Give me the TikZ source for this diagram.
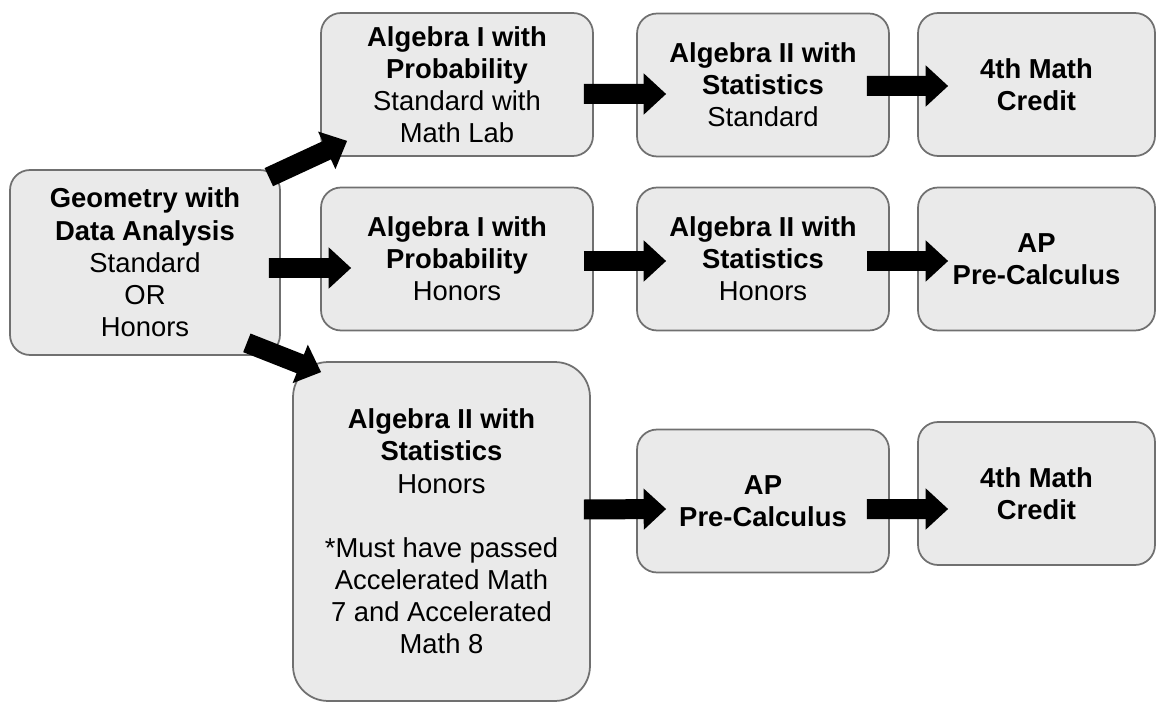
\documentclass[tikz,border=0pt]{standalone}
\usepackage{fontspec}
\setmainfont{Liberation Sans}
\usetikzlibrary{arrows.meta}
\definecolor{boxgray}{RGB}{234,234,234}
\definecolor{edgegray}{RGB}{112,112,112}

\begin{document}
\begin{tikzpicture}[x=0.02cm, y=-0.02cm, font=\fontsize{15.6}{18.3}\selectfont,
    course/.style={draw=edgegray, line width=1pt, fill=boxgray, rounded corners=0.4cm,
      align=center, inner sep=0pt, minimum height=2.86cm},
    fat/.style={line width=0.4cm, -{Triangle[length=0.45cm, width=0.8cm]}}]
  \useasboundingbox (0,0) rectangle (1159,702);

  % start
  \node[course, minimum width=5.4cm, minimum height=3.7cm] (geo) at (145,262.5)
    {\textbf{Geometry with}\\ \textbf{Data Analysis}\\ Standard\\ OR\\ Honors};

  % top row
  \node[course, minimum width=5.44cm] (a1s) at (457,84.5)
    {\textbf{Algebra I with}\\ \textbf{Probability}\\ Standard with\\ Math Lab};
  \node[course, minimum width=5.04cm] (a2s) at (763,85)
    {\textbf{Algebra II with}\\ \textbf{Statistics}\\ Standard};
  \node[course, minimum width=4.74cm] (c4a) at (1036.5,84.5)
    {\textbf{4th Math}\\ \textbf{Credit}};

  % middle row
  \node[course, minimum width=5.44cm] (a1h) at (457,259)
    {\textbf{Algebra I with}\\ \textbf{Probability}\\ Honors};
  \node[course, minimum width=5.04cm] (a2h) at (763,259)
    {\textbf{Algebra II with}\\ \textbf{Statistics}\\ Honors};
  \node[course, minimum width=4.74cm] (apa) at (1036.5,259)
    {\textbf{AP}\\ \textbf{Pre-Calculus}};

  % bottom row
  \node[course, minimum width=5.94cm, minimum height=6.78cm, rounded corners=0.7cm] (big) at (441.5,531.5)
    {\textbf{Algebra II with}\\ \textbf{Statistics}\\ Honors\\[18.3pt]
     *Must have passed\\ Accelerated Math\\ 7 and Accelerated\\ Math 8};
  \node[course, minimum width=5.04cm] (apb) at (763,501)
    {\textbf{AP}\\ \textbf{Pre-Calculus}};
  \node[course, minimum width=4.74cm] (c4b) at (1036.5,493.5)
    {\textbf{4th Math}\\ \textbf{Credit}};

  % arrows
  \draw[fat] ([shift={(-12,8)}]geo.north east) -- ([shift={(27,-16)}]a1s.south west);
  \draw[fat] ([shift={(-12,5.5)}]geo.east) -- ([shift={(31,9)}]a1h.west);
  \draw[fat] ([shift={(-34,-13)}]geo.south east) -- ([shift={(29,11)}]big.north west);
  \draw[fat] ([shift={(-10,9.5)}]a1s.east) -- ([shift={(30,9)}]a2s.west);
  \draw[fat] ([shift={(-23,1)}]a2s.east) -- ([shift={(31,1.5)}]c4a.west);
  \draw[fat] ([shift={(-10,2)}]a1h.east) -- ([shift={(30,2)}]a2h.west);
  \draw[fat] ([shift={(-23,2)}]a2h.east) -- ([shift={(31,2)}]apa.west);
  \draw[fat] ([shift={(-7,-22)}]big.east) -- ([shift={(30,8)}]apb.west);
  \draw[fat] ([shift={(-23,8)}]apb.east) -- ([shift={(31,15.5)}]c4b.west);
\end{tikzpicture}
\end{document}
